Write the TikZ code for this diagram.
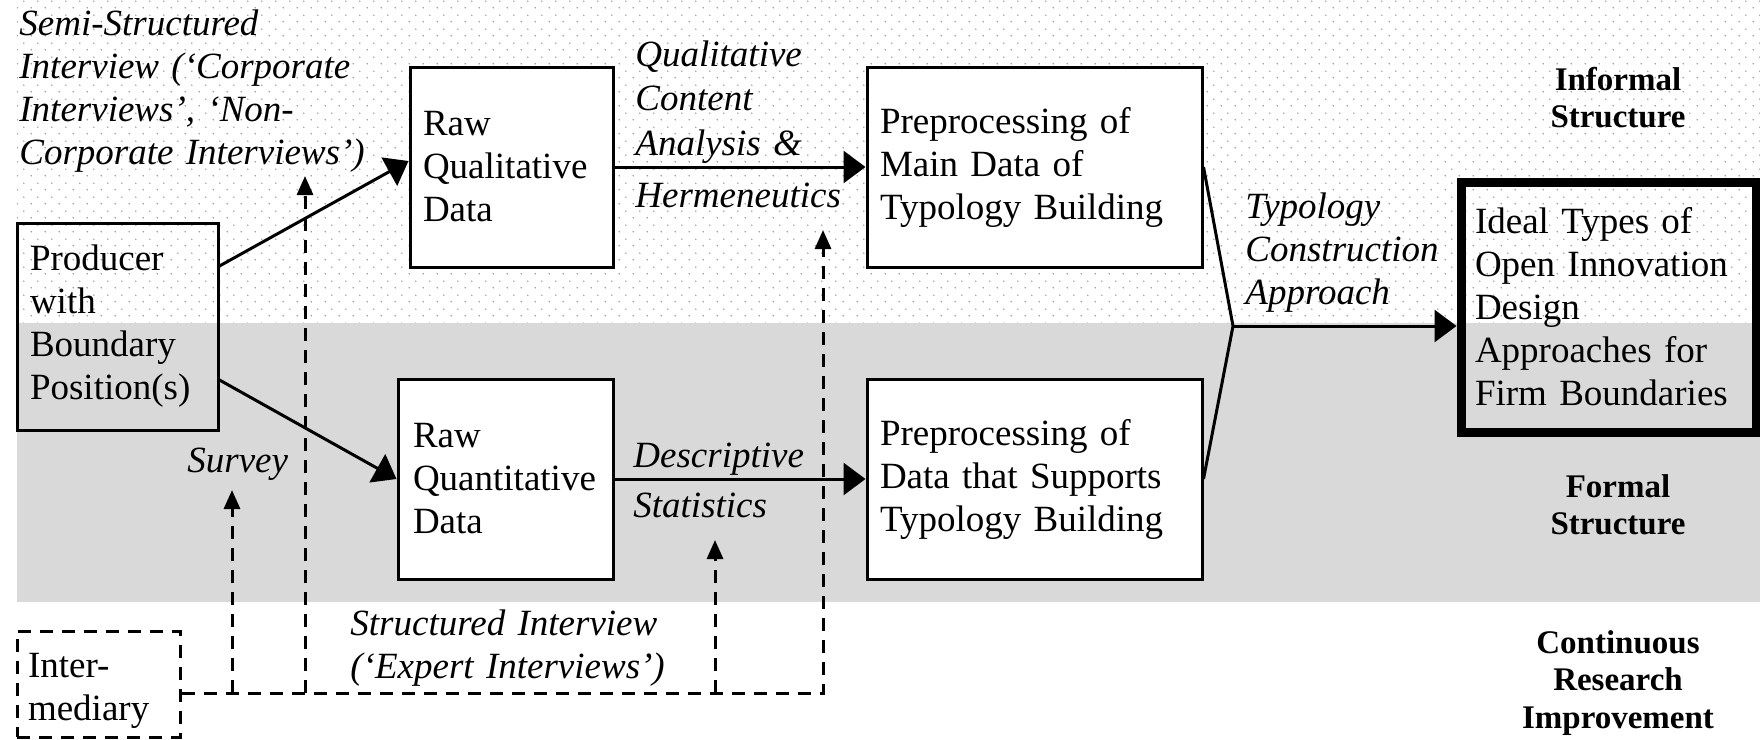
\documentclass[tikz,border=0pt]{standalone}
\usepackage{fontspec}
\setmainfont{Liberation Serif}
\usetikzlibrary{arrows.meta,patterns.meta,calc}
\newcommand\boxfont{\fontsize{18.5}{21.5}\selectfont}
\newcommand\tagfont{\fontsize{16.5}{18.75}\selectfont\bfseries}
\hfuzz=20pt
\tikzdeclarepattern{
  name=sparsedots,
  type=uncolored,
  bounding box={(0pt,0pt) and (7pt,7pt)},
  tile size={(7pt,7pt)},
  code={
    \pgfpathcircle{\pgfpoint{1.75pt}{1.75pt}}{0.45pt}
    \pgfpathcircle{\pgfpoint{5.25pt}{5.25pt}}{0.45pt}
    \pgfusepath{fill}
  }
}
\begin{document}
\begin{tikzpicture}[x=0.5pt,y=-0.5pt,
  box/.style={draw, line width=1.5pt, fill=white, font=\boxfont, align=left, inner xsep=6.5pt, inner ysep=0pt},
  lab/.style={font=\boxfont\itshape, inner sep=0pt, align=left, text width=200pt, anchor=base west},
  tag/.style={font=\tagfont, inner sep=0pt, align=center, text width=120pt, anchor=base},
  conn/.style={line width=1.5pt, -{Triangle[length=11pt,width=16pt]}},
  plain/.style={line width=1.5pt},
  dashline/.style={line width=1.5pt, dash pattern=on 6.5pt off 4.5pt},
  dasharrow/.style={dashline, -{Triangle[length=9.5pt,width=8pt]}}
]
\useasboundingbox (0,0) rectangle (1760,739);
% background bands
\fill[pattern=sparsedots, pattern color=black!40] (17,0) rectangle (1760,323);
\fill[gray!30] (17,323) rectangle (1760,602);

% boxes
\node[box, fill=none, minimum width=100.5pt, minimum height=103.5pt, text width=87.5pt] (prod) at (117.5,326.5) {Producer\\with\\Boundary\\Position(s)};
\node[box, minimum width=101.5pt, minimum height=100pt, text width=88.5pt] (rawqual) at (511.5,167) {Raw\\Qualitative\\Data};
\node[box, minimum width=107.5pt, minimum height=100pt, text width=92.5pt, inner xsep=7.5pt] (rawquant) at (505.5,479) {Raw\\Quantitative\\Data};
\node[box, minimum width=167.5pt, minimum height=100pt, text width=154.5pt] (premain) at (1034.5,167) {Preprocessing of\\Main Data of\\Typology Building};
\node[box, minimum width=167.5pt, minimum height=100pt, text width=154.5pt] (presupp) at (1034.5,479) {Preprocessing of\\Data that Supports\\Typology Building};
\node[box, fill=none, line width=4.5pt, minimum width=147.5pt, minimum height=125pt, text width=133.5pt, inner xsep=7pt] (ideal) at (1608.5,307) {Ideal Types of\\Open~Innovation\\Design\\Approaches for\\Firm Boundaries};
\node[box, fill=none, dashline, minimum width=81.5pt, minimum height=53pt, text width=70.5pt, inner xsep=5.5pt] (inter) at (98.5,684) {\rule{0pt}{18.5pt}Inter-\\mediary};

% solid connectors
\draw[conn] ([yshift=30.25pt]prod.east) -- ([yshift=3pt]rawqual.west);
\draw[conn] ([yshift=-26.75pt]prod.east) -- (rawquant.west);
\draw[conn] (rawqual.east) -- (premain.west);
\draw[conn] (rawquant.east) -- (presupp.west);
\coordinate (junc) at (1233,326);
\draw[plain] (premain.east) -- (junc) -- (presupp.east);
\draw[conn] (junc) -- (junc -| ideal.west);

% dashed connectors
\coordinate (hc) at (823,693);
\coordinate (tipA) at (232,490);
\coordinate (tipB) at (305,176);
\coordinate (tipC) at (715,540);
\coordinate (tipD) at (823,230);
\draw[dasharrow] (inter.east |- hc) -- (hc) -- (tipD);
\draw[dasharrow] (tipA |- hc) -- (tipA);
\draw[dasharrow] (tipB |- hc) -- (tipB);
\draw[dasharrow] (tipC |- hc) -- (tipC);

% labels
\node[lab] (semi) at (19,35) {Semi-Structured\\Interview (‘Corporate\\Interviews’, ‘Non-\\Corporate Interviews’)};
\node[lab, font=\fontsize{18.5}{22.3}\selectfont\itshape] (qca) at (635,66) {Qualitative\\Content\\Analysis \&\\[3.7pt]Hermeneutics};
\node[lab] (desc) at (633,467) {Descriptive\\[3.5pt]Statistics};
\node[lab] (typ) at (1245,218) {Typology\\Construction\\Approach};
\node[lab] (survey) at (187,472) {Survey};
\node[lab] (struct) at (350,635) {Structured Interview\\(‘Expert Interviews’)};

\node[tag] (informal) at (1618,90) {Informal\\Structure};
\node[tag] (formal) at (1618,497) {Formal\\Structure};
\node[tag] (cont) at (1618,653) {Continuous\\Research\\Improvement};
\end{tikzpicture}
\end{document}
